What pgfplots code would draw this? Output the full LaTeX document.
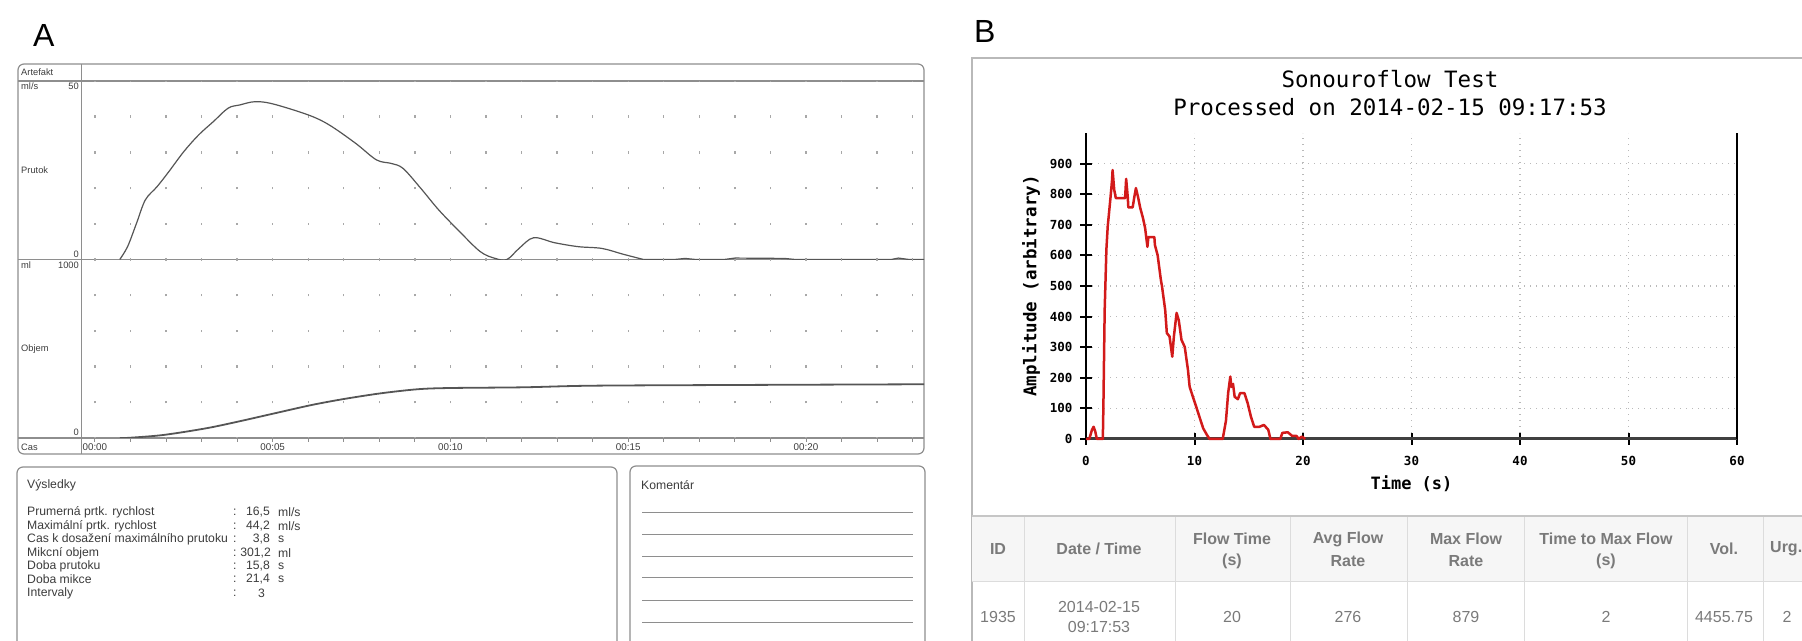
\documentclass[border=0pt]{standalone}
\usepackage{fontspec}
\setmainfont{Liberation Sans}
\newfontfamily\monofont{DejaVu Sans Mono}
\usepackage{pgfplots}
\usepackage{pgfplotstable}
\pgfplotsset{compat=1.18}

\definecolor{scanline}{HTML}{8E8E8E}
\definecolor{scantext}{HTML}{3C3C3C}
\definecolor{curvegray}{HTML}{555555}
\definecolor{dotgray}{HTML}{A8A8A8}
\definecolor{flowred}{HTML}{D21A1A}
\definecolor{tabtext}{HTML}{7A7A7A}
\definecolor{tabline}{HTML}{DCDCDC}
\definecolor{tabhead}{HTML}{F6F6F6}

% panel A, flow rate (ml/s)
\pgfplotstableread{
t v
0.70 0
0.92 3.6
1.17 10.1
1.42 16.7
1.75 20.4
2.08 24.6
2.50 30.2
2.92 34.9
3.33 38.6
3.75 42.4
4.08 43.3
4.50 44.2
5.00 43.6
6.00 40.5
6.59 37.7
7.34 32.5
7.92 27.9
8.34 26.9
8.67 25.5
9.17 19.9
9.67 13.9
10.26 7.8
10.84 2.2
11.26 0.3
11.59 0
11.93 3.1
12.34 6.1
12.93 4.7
13.59 3.6
14.26 3.1
14.85 1.5
15.43 0
}\flowA

\pgfplotstableread{
t v
15.43 0
16.3 0
16.6 0.3
16.9 0
17.7 0
18.0 0.4
19.4 0.3
19.7 0
22.4 0
22.6 0.4
22.9 0
23.32 0
}\flowtail

% panel A, voided volume (ml)
\pgfplotstableread{
t V
0.70 0
0.96 1
1.93 17
3.12 54
4.01 91
5.05 138
6.10 185
6.99 218
8.03 250
9.07 273
9.97 280
12.05 284
13.99 293
18.0 297
23.32 301
}\volA

% panel B, sonouroflow amplitude
\pgfplotstableread{
t a
0 0
0.3 0
0.55 30
0.7 40
0.85 25
1.0 0
1.55 0
1.6 100
1.72 420
1.88 620
2.0 694
2.25 786
2.4 846
2.45 879
2.6 814
2.75 787
3.6 787
3.7 850
3.85 790
3.9 757
4.3 757
4.45 790
4.6 820
4.8 790
5.0 755
5.25 722
5.45 689
5.66 628
5.75 660
6.3 660
6.35 634
6.6 601
6.9 520
7.0 500
7.3 421
7.45 346
7.7 335
7.95 269
8.1 335
8.35 412
8.55 388
8.8 324
9.1 301
9.4 225
9.55 171
9.85 138
10.15 106
10.45 73
10.8 35
11.2 10
11.4 0
12.6 0
12.9 60
13.1 150
13.3 204
13.4 170
13.55 180
13.7 138
14.0 130
14.2 150
14.6 150
14.9 117
15.2 73
15.5 40
16.0 40
16.4 46
16.8 30
17.0 0
17.9 0
18.1 20
18.6 22
19.0 10
19.4 10
19.6 0
19.9 8
20.2 0
}\sono

\pgfplotsset{
  panelA/.style={
    anchor=south west, scale only axis,
    width=843pt, height=178.5pt,
    xmin=-0.39, xmax=23.32,
    axis line style={draw=none},
    ytick=\empty,
    xtick={0,...,23},
    xmajorgrids,
    major grid style={dotgray, line width=1.3pt,
      dash pattern=on 2.4pt off 33.3pt, dash phase=1.2pt},
  },
}

\begin{document}
\begin{tikzpicture}[x=1pt,y=1pt]
\useasboundingbox (0,0) rectangle (1802,640);
\clip (0,0) rectangle (1802,640);

% ---------------- panel A ----------------
\node[anchor=base west, font=\fontsize{32}{32}\selectfont, inner sep=0] at (33,593) {A};

\draw[scanline, line width=1.2pt, rounded corners=6pt] (18,186) rectangle (924,576);
\draw[scanline, line width=1.2pt] (18,559) -- (924,559);
\draw[scanline, line width=1.2pt] (18,380.5) -- (924,380.5);
\draw[scanline, line width=1.2pt] (18,202) -- (924,202);
\draw[scanline, line width=1pt] (81,186) -- (81,576);

\begin{scope}[every node/.style={font=\fontsize{9.3}{10}\selectfont, text=scantext, inner sep=0}]
\node[anchor=west] at (21,567.5) {Artefakt};
\node[anchor=west] at (21,554) {ml/s};
\node[anchor=east] at (79,554) {50};
\node[anchor=west] at (21,470) {Prutok};
\node[anchor=east] at (79,386) {0};
\node[anchor=west] at (21,375) {ml};
\node[anchor=east] at (79,375) {1000};
\node[anchor=west] at (21,291) {Objem};
\node[anchor=east] at (79,208) {0};
\node[anchor=west] at (21,193) {Cas};
\end{scope}

\begin{axis}[panelA, at={(81pt,380.5pt)}, ymin=0, ymax=50,
  xticklabels={}, major tick length=0pt]
\addplot[curvegray, line width=1.2pt, smooth, tension=0.55] table[x=t, y=v] {\flowA};
\addplot[curvegray, line width=1.2pt] table[x=t, y=v] {\flowtail};
\end{axis}

\begin{axis}[panelA, at={(81pt,202pt)}, ymin=0, ymax=1000,
  xtick pos=left, tick align=outside, major tick length=4pt,
  tick style={scanline, line width=0.8pt},
  xticklabels={00:00,,,,,00:05,,,,,00:10,,,,,00:15,,,,,00:20,,,},
  xticklabel style={font=\fontsize{9.8}{10}\selectfont, text=scantext, anchor=center, yshift=-5pt}]
\addplot[curvegray, line width=1.8pt, smooth, tension=0.5] table[x=t, y=V] {\volA};
\end{axis}

% results and comment boxes
\draw[scanline, line width=1.2pt, rounded corners=6pt] (17,-10) rectangle (617,173);
\draw[scanline, line width=1.2pt, rounded corners=6pt] (630,-10) rectangle (925,174);

\begin{scope}[every node/.style={font=\fontsize{12.2}{13}\selectfont, text=scantext, inner sep=0}]
\node[anchor=west] at (27,155) {Výsledky};
\node[anchor=west] at (641,155) {Komentár};

\node[anchor=west] at (27,128) {Prumerná prtk. rychlost};
\node[anchor=west] at (27,114) {Maximální prtk. rychlost};
\node[anchor=west] at (27,101) {Cas k dosažení maximálního prutoku};
\node[anchor=west] at (27,87) {Mikcní objem};
\node[anchor=west] at (27,74) {Doba prutoku};
\node[anchor=west] at (27,61) {Doba mikce};
\node[anchor=west] at (27,47) {Intervaly};

\node[anchor=west] at (233,128) {:};
\node[anchor=west] at (233,114) {:};
\node[anchor=west] at (233,101) {:};
\node[anchor=west] at (233,87) {:};
\node[anchor=west] at (233,74) {:};
\node[anchor=west] at (233,61) {:};
\node[anchor=west] at (233,47) {:};

\node[anchor=east] at (270,128) {16,5};
\node[anchor=east] at (270,114) {44,2};
\node[anchor=east] at (270,101) {3,8};
\node[anchor=east] at (271,87) {301,2};
\node[anchor=east] at (270,74) {15,8};
\node[anchor=east] at (270,61) {21,4};
\node[anchor=east] at (265,47) {3};

\node[anchor=west] at (278,128) {ml/s};
\node[anchor=west] at (278,114) {ml/s};
\node[anchor=west] at (278,101) {s};
\node[anchor=west] at (278,87) {ml};
\node[anchor=west] at (278,74) {s};
\node[anchor=west] at (278,61) {s};
\end{scope}
\foreach \y in {127,105,83,62,39,18}
  \draw[scanline, line width=1pt] (642,\y) -- (913,\y);

% ---------------- panel B ----------------
\node[anchor=base west, font=\fontsize{32}{32}\selectfont, inner sep=0] at (974,597) {B};
\draw[gray!55, line width=1.5pt] (972,-5) -- (972,582) -- (1810,582);

\node[font=\monofont\fontsize{22.5}{24}\selectfont] at (1390,561) {Sonouroflow Test};
\node[font=\monofont\fontsize{22.5}{24}\selectfont] at (1390,533) {Processed on 2014-02-15 09:17:53};

\begin{axis}[at={(1086pt,201pt)}, anchor=south west, scale only axis,
  width=651pt, height=306pt,
  xmin=0, xmax=60, ymin=0, ymax=1000, clip=false,
  axis x line=bottom, axis y line=left,
  axis line style={-},
  x axis line style={line width=3pt, black!75},
  y axis line style={line width=2pt, black},
  xtick={0,10,...,60}, ytick={0,100,...,900},
  tick align=center, major tick length=12pt,
  tick style={line width=2pt, black},
  grid=major,
  major grid style={gray!55, line width=1.3pt, dash pattern=on 1.3pt off 4.7pt},
  /pgf/number format/assume math mode=true,
  ticklabel style={font=\monofont\bfseries\fontsize{12.5}{13}\selectfont},
  xticklabel style={anchor=center, yshift=-16pt},
  yticklabel style={anchor=east, xshift=-4pt},
  xlabel={Time (s)}, ylabel={Amplitude (arbitrary)},
  every axis x label/.style={at={(axis description cs:0.5,0)}, anchor=center, yshift=-45pt,
    font=\monofont\bfseries\fontsize{17}{18}\selectfont},
  every axis y label/.style={at={(axis description cs:0,0.5)}, anchor=center, xshift=-55pt,
    rotate=90, font=\monofont\bfseries\fontsize{17.5}{18}\selectfont},
]
\addplot[flowred, line width=2.5pt, line join=round] table[x=t, y=a] {\sono};
\draw[line width=2pt] (axis cs:60,0) -- (axis cs:60,1000);
\end{axis}

% results table
\fill[tabhead] (972,58) rectangle (1810,124);
\draw[tabline, line width=1pt] (972,58) -- (1810,58);
\foreach \x in {1024,1175,1290,1407,1524,1687,1763}
  \draw[tabline, line width=1pt] (\x,-5) -- (\x,124);
\draw[gray!45, line width=2pt] (972,124) -- (1810,124);

\begin{scope}[every node/.style={font=\bfseries\fontsize{16}{17}\selectfont, text=tabtext, inner sep=0}]
\node at (998,91) {ID};
\node at (1099,91) {Date / Time};
\node at (1232,101) {Flow Time};
\node at (1232,79) {(s)};
\node at (1348,101) {Avg Flow};
\node at (1348,79) {Rate};
\node at (1466,101) {Max Flow};
\node at (1466,79) {Rate};
\node at (1606,101) {Time to Max Flow};
\node at (1606,79) {(s)};
\node at (1724,91) {Vol.};
\node[anchor=west] at (1770,91) {Urg.};
\end{scope}
\begin{scope}[every node/.style={font=\fontsize{16}{17}\selectfont, text=tabtext, inner sep=0}]
\node at (998,23) {1935};
\node at (1099,33) {2014-02-15};
\node at (1099,13) {09:17:53};
\node at (1232,23) {20};
\node at (1348,23) {276};
\node at (1466,23) {879};
\node at (1606,23) {2};
\node at (1724,23) {4455.75};
\node at (1787,23) {2};
\end{scope}
\end{tikzpicture}
\end{document}
